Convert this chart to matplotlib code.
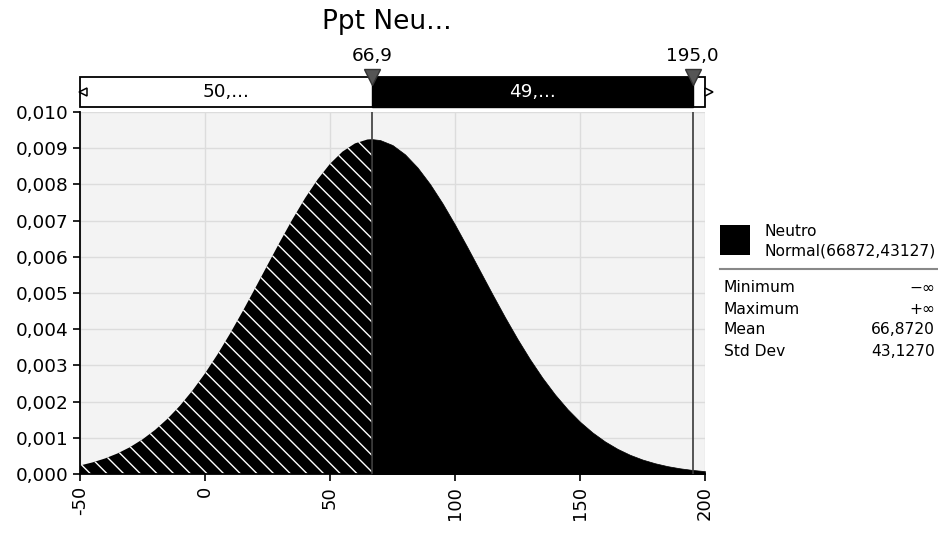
import numpy as np
import matplotlib
matplotlib.use('Agg')
import matplotlib.pyplot as plt
from matplotlib.patches import Rectangle
from matplotlib.ticker import FuncFormatter

# density (x step 5, plus the split point at 66.9)
x_vals = [-50, -45, -40, -35, -30, -25, -20, -15, -10, -5, 0, 5, 10, 15, 20, 25,
          30, 35, 40, 45, 50, 55, 60, 65, 66.9, 70, 75, 80, 85, 90, 95, 100, 105,
          110, 115, 120, 125, 130, 135, 140, 145, 150, 155, 160, 165, 170, 175,
          180, 185, 190, 195, 200]
density = [0.000235, 0.000320, 0.000429, 0.000568, 0.000742, 0.000957, 0.001216,
           0.001526, 0.001889, 0.002307, 0.002780, 0.003305, 0.003877, 0.004488,
           0.005125, 0.005774, 0.006418, 0.007039, 0.007618, 0.008134, 0.008569,
           0.008906, 0.009133, 0.009241, 0.009250, 0.009226, 0.009087, 0.008831,
           0.008468, 0.008011, 0.007478, 0.006887, 0.006258, 0.005610, 0.004963,
           0.004331, 0.003730, 0.003169, 0.002656, 0.002197, 0.001793, 0.001443,
           0.001147, 0.000899, 0.000695, 0.000530, 0.000399, 0.000297, 0.000217,
           0.000157, 0.000112, 0.000079]

left_cut = 66.9
right_cut = 195.0
left_pct = '50,...'
mid_pct = '49,...'
title = 'Ppt Neu...'
x_ticks = [-50, 0, 50, 100, 150, 200]
y_ticks = [0.000, 0.001, 0.002, 0.003, 0.004, 0.005, 0.006, 0.007, 0.008, 0.009, 0.010]
legend_name = 'Neutro'
legend_dist = 'Normal(66872,43127)'
stat_names = ['Minimum', 'Maximum', 'Mean', 'Std Dev']
stat_values = ['\u2212\u221e', '+\u221e', '66,8720', '43,1270']

plt.rcParams.update({
    'font.family': 'DejaVu Sans',
    'hatch.linewidth': 1.0,
})

W, H = 938, 533
fig = plt.figure(figsize=(W / 100, H / 100), dpi=100)
fig.patch.set_facecolor('white')


def box(x0, y0, x1, y1):
    # pixel box (top-left origin) -> figure fraction rect
    return [x0 / W, 1 - y1 / H, (x1 - x0) / W, (y1 - y0) / H]


ax = fig.add_axes(box(80, 112, 705, 474))
ax.set_facecolor('#f3f3f3')

x = np.array(x_vals)
y = np.array(density)
lmask = x <= left_cut
rmask = x >= left_cut
ax.fill_between(x[lmask], 0, y[lmask], facecolor='black', edgecolor='white',
                hatch='\\\\', linewidth=0, zorder=2)
ax.fill_between(x[rmask], 0, y[rmask], facecolor='black', edgecolor='black',
                linewidth=0.5, zorder=2)

ax.axvline(left_cut, color='#3a3a3a', lw=1.2, zorder=3)
ax.axvline(right_cut, color='#3a3a3a', lw=1.2, zorder=3)

ax.set_xlim(-50, 200)
ax.set_ylim(0, 0.010)
ax.set_xticks(x_ticks)
ax.set_yticks(y_ticks)
ax.yaxis.set_major_formatter(FuncFormatter(lambda v, p: f'{v:.3f}'.replace('.', ',')))
ax.xaxis.set_major_formatter(FuncFormatter(lambda v, p: f'{v:.0f}'))
ax.tick_params(axis='x', labelrotation=90, labelsize=13, length=5, width=1.2)
ax.tick_params(axis='y', labelsize=13.3, length=5, width=1.2)
ax.grid(True, color='#dcdcdc', lw=1, zorder=0)
ax.set_axisbelow(True)
for s in ['top', 'right']:
    ax.spines[s].set_visible(False)
for s in ['left', 'bottom']:
    ax.spines[s].set_linewidth(1.3)

# delimiter bar above the plot
bar = fig.add_axes(box(80, 77, 705, 107), sharex=ax)
bar.set_ylim(0, 1)
bar.axis('off')
bar.add_patch(Rectangle((-50, 0), 250, 1, facecolor='white', edgecolor='black',
                        lw=1.3, clip_on=False))
bar.add_patch(Rectangle((left_cut, 0), right_cut - left_cut, 1, facecolor='black',
                        edgecolor='black', lw=1, clip_on=False))
bar.text((-50 + left_cut) / 2, 0.5, left_pct, ha='center', va='center', fontsize=13.3)
bar.text((left_cut + right_cut) / 2, 0.5, mid_pct, ha='center', va='center',
         fontsize=13.3, color='white')
bar.plot([-50, -47.5], [0.5, 0.5], color='black', lw=1.2, clip_on=False)
bar.plot([-49], [0.5], marker='<', ms=6, mfc='white', mec='black', mew=1.1, clip_on=False)
bar.plot([200, 202.5], [0.5, 0.5], color='black', lw=1.2, clip_on=False)
bar.plot([201.5], [0.5], marker='>', ms=6, mfc='white', mec='black', mew=1.1, clip_on=False)
for xc in [left_cut, right_cut]:
    bar.plot([xc], [1.0], marker='v', ms=11, color='#555555', mec='#333333',
             clip_on=False, zorder=5)
    bar.text(xc, 1.4, f'{xc:.1f}'.replace('.', ','), ha='center', va='bottom',
             fontsize=13.3)

fig.text(387 / W, 1 - 22 / H, title, ha='center', va='center', fontsize=19)

# legend / statistics panel
leg = fig.add_axes(box(715, 215, 938, 380))
leg.set_xlim(715, 938)
leg.set_ylim(380, 215)
leg.axis('off')
leg.add_patch(Rectangle((720, 225), 30, 30, facecolor='black'))
leg.text(765, 232, legend_name, va='center', fontsize=11.2)
leg.text(765, 251, legend_dist, va='center', fontsize=11.2)
leg.plot([720, 938], [269, 269], color='#888888', lw=1.5)
for i, (n, v) in enumerate(zip(stat_names, stat_values)):
    yy = 288 + i * 21
    leg.text(724, yy, n, va='center', fontsize=11.2)
    leg.text(935, yy, v, va='center', ha='right', fontsize=11.2)

fig.savefig('out.png', dpi=100, facecolor='white')
